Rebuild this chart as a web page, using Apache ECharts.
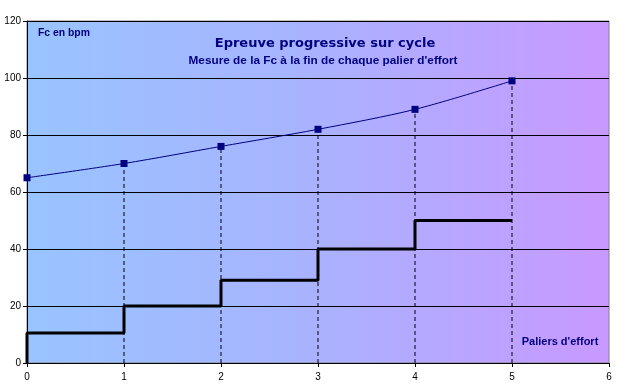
<!DOCTYPE html>
<html><head><meta charset="utf-8">
<script src="https://cdn.jsdelivr.net/npm/echarts@6/dist/echarts.min.js"></script>
<style>html,body{margin:0;padding:0;background:#fff}#c{width:620px;height:390px}</style>
</head><body><div id="c"></div>
<script>
const paliers = [0, 1, 2, 3, 4, 5];
const fc = [65, 70, 76, 82, 89, 99];
const stepLevels = [10.5, 20, 29, 40, 50];
const xTicks = [0, 1, 2, 3, 4, 5, 6];
const yTicks = [0, 20, 40, 60, 80, 100, 120];

const fcData = paliers.map((p, i) => [p, fc[i]]);
const stepData = [[0, 0]];
stepLevels.forEach((v, i) => { stepData.push([i, v]); stepData.push([i + 1, v]); });
const dashSeries = paliers.filter(p => p > 0).map((p) => ({
  type: 'line', data: [[p, 0], [p, fc[paliers.indexOf(p)]]], symbol: 'none', silent: true,
  lineStyle: { color: '#000', width: 1, type: [4, 3] }, z: 2
}));

const chart = echarts.init(document.getElementById('c'), null, { renderer: 'canvas' });
const font = 'Liberation Sans, Arial, sans-serif';
chart.setOption({
  animation: false,
  grid: {
    left: 27, right: 11, top: 21, bottom: 27, show: true, borderColor: '#808080', borderWidth: 1,
    backgroundColor: new echarts.graphic.LinearGradient(0, 0, 1, 0, [
      { offset: 0, color: '#99c4ff' },
      { offset: 0.45, color: '#a7b4ff' },
      { offset: 1, color: '#c899ff' }
    ])
  },
  xAxis: {
    type: 'value', min: xTicks[0], max: xTicks[xTicks.length - 1], interval: 1,
    axisLine: { lineStyle: { color: '#000', width: 1 } },
    axisTick: { show: true, length: 4, lineStyle: { color: '#000' } },
    axisLabel: { color: '#000', fontSize: 10, fontFamily: font, margin: 9 },
    splitLine: { show: false }
  },
  yAxis: {
    type: 'value', min: yTicks[0], max: yTicks[yTicks.length - 1], interval: 20,
    axisLine: { show: true, lineStyle: { color: '#000', width: 1 } },
    axisTick: { show: true, length: 4, lineStyle: { color: '#000' } },
    axisLabel: { color: '#000', fontSize: 10, fontFamily: font, margin: 6 },
    splitLine: { show: true, lineStyle: { color: '#000', width: 1 } }
  },
  graphic: [
    { type: 'text', x: 38, y: 33, style: { text: 'Fc en bpm', fill: '#000080', font: 'bold 10.4px ' + font, textVerticalAlign: 'middle' } },
    { type: 'text', x: 325, y: 44, style: { text: 'Epreuve progressive sur cycle', fill: '#000080', font: 'bold 13px DejaVu Sans, sans-serif', textAlign: 'center', textVerticalAlign: 'middle' } },
    { type: 'text', x: 323, y: 61, style: { text: "Mesure de la Fc à la fin de chaque palier d'effort", fill: '#000080', font: 'bold 11.8px ' + font, textAlign: 'center', textVerticalAlign: 'middle' } },
    { type: 'text', x: 560, y: 342, style: { text: "Paliers d'effort", fill: '#000080', font: 'bold 11px ' + font, textAlign: 'center', textVerticalAlign: 'middle' } }
  ],
  series: [
    ...dashSeries,
    { type: 'line', data: stepData, symbol: 'none', lineStyle: { color: '#000', width: 3 }, z: 3 },
    { type: 'line', data: fcData, smooth: 0.3, symbol: 'rect', symbolSize: 7,
      itemStyle: { color: '#000080' }, lineStyle: { color: '#000080', width: 1 }, z: 4 }
  ]
});
</script></body></html>
